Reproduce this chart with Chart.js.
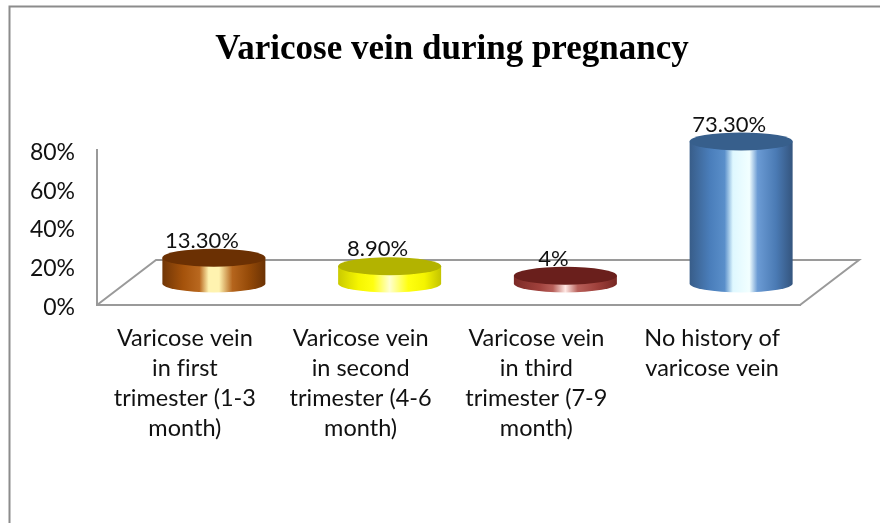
<!DOCTYPE html>
<html>
<head>
<meta charset="utf-8">
<style>
  html, body { margin: 0; padding: 0; background: #fff; overflow: hidden; }
  canvas { display: block; }
</style>
<script src="https://cdn.jsdelivr.net/npm/chart.js@4"></script>
</head>
<body>
<canvas id="veinChart" width="880" height="523"></canvas>
<script>
const categories = [
  ['Varicose vein', 'in first', 'trimester (1-3', 'month)'],
  ['Varicose vein', 'in second', 'trimester (4-6', 'month)'],
  ['Varicose vein', 'in third', 'trimester (7-9', 'month)'],
  ['No history of', 'varicose vein']
];
const percentValues = [13.3, 8.9, 4, 73.3];
const valueLabels = ['13.30%', '8.90%', '4%', '73.30%'];
const yTicks = [0, 20, 40, 60, 80];

// side gradient and top colour for each cylinder
const cylinderStops = [
  [[0, '#713606'], [0.2, '#a4520b'], [0.36, '#b9681f'], [0.45, '#fff3b0'], [0.55, '#fff3b0'], [0.68, '#b5651d'], [0.84, '#954a08'], [1, '#6b3204']],
  [[0, '#caca00'], [0.2, '#f6f600'], [0.34, '#ffff10'], [0.5, '#ffffd0'], [0.68, '#ffff10'], [0.84, '#f4f400'], [1, '#c4c400']],
  [[0, '#7b2a26'], [0.25, '#a0413c'], [0.38, '#b8605a'], [0.5, '#ffe8e4'], [0.62, '#b8605a'], [0.8, '#a0413c'], [1, '#772723']],
  [[0, '#385d89'], [0.2, '#4a7ebb'], [0.34, '#5a8fca'], [0.42, '#dff8ff'], [0.58, '#f2ffff'], [0.66, '#6b9bd4'], [0.84, '#4a7ab4'], [1, '#34557e']]
];
const cylinderTops = ['#6b3003', '#b3b300', '#6a1f1c', '#375f8c'];

const FONT = 'Lato';
const AXIS_GREY = '#9a9a9a';
const DEPTH_X = 29, DEPTH_Y = -21.5;   // shift from the front floor edge to the bar row
const BACK_X = 59, BACK_Y = -45;       // shift from front edge to back edge of the floor
const CAP_RY = 9;

const floorAndFrame = {
  id: 'floorAndFrame',
  afterLayout(chart) {
    chart.titleBlock.left += 52;
    chart.titleBlock.right += 52;
  },
  beforeDraw(chart) {
    // no "fi" ligature in the axis labels
    chart.ctx.textRendering = 'optimizeSpeed';
  },
  beforeDatasetsDraw(chart) {
    const { ctx, chartArea: a } = chart;
    ctx.save();
    // picture frame, cut off at right and bottom
    ctx.strokeStyle = '#8c8c8c';
    ctx.lineWidth = 2;
    ctx.beginPath();
    ctx.moveTo(9.5, 523);
    ctx.lineTo(9.5, 6.5);
    ctx.lineTo(880, 6.5);
    ctx.stroke();
    // floor of the 3D box
    ctx.strokeStyle = AXIS_GREY;
    ctx.beginPath();
    ctx.moveTo(a.left, a.bottom);
    ctx.lineTo(a.left + BACK_X, a.bottom + BACK_Y);
    ctx.lineTo(a.right + BACK_X, a.bottom + BACK_Y);
    ctx.lineTo(a.right, a.bottom);
    ctx.stroke();
    ctx.restore();
  },
  afterDatasetsDraw(chart) {
    const { ctx } = chart;
    const bars = chart.getDatasetMeta(0).data;
    ctx.save();
    // labels first: the cylinder caps sit on top of them
    ctx.fillStyle = '#111';
    ctx.font = '22px ' + FONT;
    ctx.textAlign = 'center';
    ctx.textBaseline = 'middle';
    bars.forEach((bar, i) => {
      ctx.fillText(valueLabels[i], bar.x + DEPTH_X - 12, bar.y + DEPTH_Y - 17);
    });
    bars.forEach((bar, i) => {
      const cx = bar.x + DEPTH_X;
      const top = bar.y + DEPTH_Y;
      const bottom = bar.base + DEPTH_Y;
      const rx = bar.width / 2;
      const grad = ctx.createLinearGradient(cx - rx, 0, cx + rx, 0);
      cylinderStops[i].forEach(s => grad.addColorStop(s[0], s[1]));
      ctx.fillStyle = grad;
      ctx.beginPath();
      ctx.moveTo(cx - rx, top);
      ctx.lineTo(cx - rx, bottom);
      ctx.ellipse(cx, bottom, rx, CAP_RY, 0, Math.PI, 0, true);
      ctx.lineTo(cx + rx, top);
      ctx.closePath();
      ctx.fill();
      ctx.fillStyle = cylinderTops[i];
      ctx.beginPath();
      ctx.ellipse(cx, top, rx, CAP_RY, 0, 0, Math.PI * 2);
      ctx.fill();
    });
    ctx.restore();
  }
};

new Chart(document.getElementById('veinChart'), {
  type: 'bar',
  data: {
    labels: categories,
    datasets: [{
      data: percentValues,
      backgroundColor: 'transparent',
      barThickness: 103
    }]
  },
  plugins: [floorAndFrame],
  options: {
    responsive: false,
    animation: false,
    layout: { padding: { left: 0, right: 80, top: 0, bottom: 0 } },
    plugins: {
      legend: { display: false },
      tooltip: { enabled: false },
      title: {
        display: true,
        text: 'Varicose vein during pregnancy',
        color: '#000',
        font: { family: 'Liberation Serif', size: 35, weight: 'bold', lineHeight: 1.2 },
        padding: { top: 29, bottom: 79 }
      }
    },
    scales: {
      x: {
        grid: { display: false, drawTicks: false },
        border: { display: true, color: AXIS_GREY, width: 2 },
        afterFit(s) { s.height = 218; },
        ticks: {
          color: '#111',
          padding: 18,
          maxRotation: 0,
          autoSkip: false,
          font: { family: FONT, size: 23.5, lineHeight: 1.277 }
        }
      },
      y: {
        min: 0,
        max: 80,
        grid: { display: false, drawTicks: false },
        border: { display: true, color: AXIS_GREY, width: 2 },
        afterFit(s) { s.width = 97; },
        afterBuildTicks(s) { s.ticks = yTicks.map(v => ({ value: v })); },
        ticks: {
          color: '#111',
          padding: 22,
          // blank first line with a small line height nudges the label down
          callback: v => ['', v + '%'],
          font: { family: FONT, size: 23, lineHeight: '5px' }
        }
      }
    }
  }
});
</script>
</body>
</html>
